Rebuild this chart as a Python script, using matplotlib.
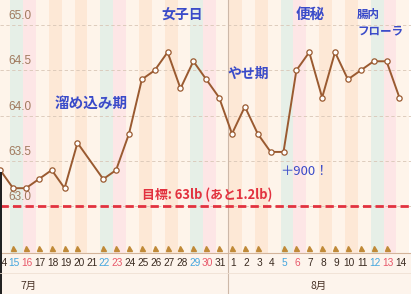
import numpy as np
import pandas as pd
import matplotlib
matplotlib.use("Agg")
import matplotlib.pyplot as plt
from matplotlib.patches import Rectangle
from matplotlib.lines import Line2D

# data
dates = pd.date_range("2017-07-14", "2017-08-14")
day_labels = ["14", "15", "16", "17", "18", "19", "20", "21", "22", "23", "24", "25",
              "26", "27", "28", "29", "30", "31", "1", "2", "3", "4", "5", "6", "7",
              "8", "9", "10", "11", "12", "13", "14"]
weights = [63.4, 63.2, 63.2, 63.3, 63.4, 63.2, 63.7, np.nan, 63.3, 63.4, 63.8,
           64.4, 64.5, 64.7, 64.3, 64.6, 64.4, 64.2,
           63.8, 64.1, 63.8, 63.6, 63.6, 64.5, 64.7, 64.2, 64.7, 64.4, 64.5,
           64.6, 64.6, 64.2]
marked = [0, 1, 1, 1, 1, 1, 1, 0, 1, 1, 1, 1, 1, 1, 1, 1, 1, 1,
          1, 1, 1, 0, 1, 1, 1, 1, 1, 1, 1, 1, 1, 0]
yticks = [63.0, 63.5, 64.0, 64.5, 65.0]
goal = 63.0
month_labels = ["7月", "8月"]
notes = [("溜め込み期", 7.07, 64.14, 10.5), ("女子日", 14.1, 65.11, 10),
         ("やせ期", 19.26, 64.46, 10), ("便秘", 24.1, 65.125, 10.5)]

brown = "#9a5a30"
blue = "#3a4bc9"
red = "#e2323f"
jp = ["Noto Sans CJK JP", "DejaVu Sans"]

fig = plt.figure(figsize=(4.11, 2.94), dpi=100, facecolor="#fdf4ec")
ax = fig.add_axes([0, 41 / 294, 1, 253 / 294])
ax.set_xlim(-0.0155, 31.9)
ax.set_ylim(62.485, 65.276)

# background stripes
for i, d in enumerate(dates):
    wd = d.weekday()
    if wd == 5:
        c = "#e6efe7"
    elif wd == 6:
        c = "#fde6e6"
    elif wd in (1, 3):
        c = "#fde8d6"
    else:
        c = "#fef4ea"
    ax.axvspan(i - 0.23, i + 0.77, color=c, lw=0, zorder=0)

for v in yticks:
    ax.axhline(v, color="#d8c6b6", lw=0.6, dashes=(4, 3), zorder=1)
    ax.text(8 / 411, v + 0.1, f"{v:.1f}", transform=ax.get_yaxis_transform(),
            ha="left", va="center", fontsize=8.5, color="#a07a5e",
            family="Liberation Sans")

ax.axhline(goal, color=red, lw=2, dashes=(3, 1.5), zorder=2)

# month divider
ax.axvline(17.7, ymin=-41 / 253, ymax=1, color="#cdb8a8", lw=0.8, clip_on=False, zorder=1)

x = np.arange(len(weights))
w = np.array(weights)
ok = ~np.isnan(w)
ax.plot(x[ok], w[ok], color=brown, lw=1.4, marker="o", ms=3.8, mfc="white",
        mec=brown, mew=0.9, zorder=3)

xm = [i for i, m in enumerate(marked) if m]
ax.plot(xm, [0.02] * len(xm), ls="none", marker="^", ms=3.6, color="#c08a38",
        transform=ax.get_xaxis_transform(), clip_on=False, zorder=3)

for i, (lab, d) in enumerate(zip(day_labels, dates)):
    wd = d.weekday()
    col = "#45a6de" if wd == 5 else ("#e8586a" if wd == 6 else "#3a2a20")
    ax.text(i + 0.1, -0.04, lab, transform=ax.get_xaxis_transform(), ha="center",
            va="center", fontsize=7.3, color=col, family="Liberation Sans", clip_on=False)

ax.text(2.19, -0.13, month_labels[0], transform=ax.get_xaxis_transform(), ha="center",
        va="center", fontsize=7.5, color="#4a3428", family=jp)
ax.text(24.7, -0.13, month_labels[1], transform=ax.get_xaxis_transform(), ha="center",
        va="center", fontsize=7.5, color="#4a3428", family=jp)

for t, xi, yi, fs in notes:
    ax.text(xi, yi, t, ha="center", va="center", fontsize=fs, color=blue,
            fontweight="bold", family=jp)
ax.text(27.71, 65.12, "腸内", ha="left", va="center", fontsize=8.3, color=blue,
        fontweight="bold", family=jp)
ax.text(27.71, 64.94, "フローラ", ha="left", va="center", fontsize=8.3, color=blue,
        fontweight="bold", family=jp)
ax.text(23.6, 63.38, "＋900！", ha="center", va="center", fontsize=9.5, color=blue,
        family=jp)
ax.text(16.07, 63.12, "目標: 63lb (あと1.2lb)", ha="center", va="center",
        fontsize=9.3, color=red, fontweight="bold", family=jp)

for s in ["top", "left", "right"]:
    ax.spines[s].set_visible(False)
ax.spines["bottom"].set_color("#d4b49a")
ax.spines["bottom"].set_linewidth(0.8)
ax.set_xticks([])
ax.set_yticks([])

fig.add_artist(Line2D([0, 1], [21 / 294, 21 / 294], color="#efe0d3", lw=0.6))
fig.add_artist(Rectangle((0, 0), 1.5 / 411, 122 / 294, transform=fig.transFigure,
                         color="#222222", lw=0))

fig.savefig("out.png", dpi=100, facecolor=fig.get_facecolor())
